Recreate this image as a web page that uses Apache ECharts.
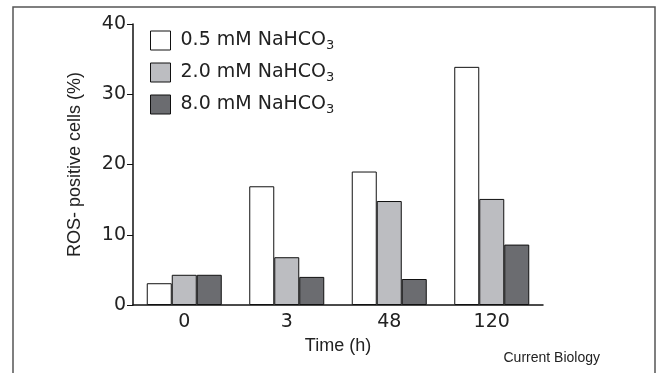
<!DOCTYPE html>
<html>
<head>
<meta charset="utf-8">
<script src="https://cdn.jsdelivr.net/npm/echarts@6/dist/echarts.min.js"></script>
<style>
  html, body { margin: 0; padding: 0; background: #fff; }
  #chart { width: 661px; height: 373px; }
</style>
</head>
<body>
<div id="chart"></div>
<script>
// --- data ---
const categories = ['0', '3', '48', '120'];
const seriesNames = ['0.5 mM NaHCO', '2.0 mM NaHCO', '8.0 mM NaHCO'];
const low = [3.1, 16.9, 19.0, 33.9];
const mid = [4.3, 6.8, 14.8, 15.1];
const high = [4.3, 4.0, 3.7, 8.6];
const yTicks = [0, 10, 20, 30, 40];

const FONT = 'Liberation Sans';
const TICK_FONT = 'DejaVu Sans';
const colors = ['#ffffff', '#bcbdc1', '#6b6c70'];

const chart = echarts.init(document.getElementById('chart'), null, { renderer: 'canvas' });

const makeBar = (name, data, color) => ({
  name,
  type: 'bar',
  data,
  barWidth: 25,
  barGap: '0%',
  itemStyle: { color, borderColor: '#111', borderWidth: 1 },
  emphasis: { disabled: true }
});

const option = {
  animation: false,
  textStyle: { fontFamily: FONT },
  grid: { left: 133, right: 118, top: 24, bottom: 68 },
  legend: {
    orient: 'vertical',
    left: 145,
    top: 24,
    icon: 'rect',
    itemWidth: 20,
    itemHeight: 19,
    itemGap: 9,
    data: seriesNames,
    formatter: name => '{m|' + name + '}{sub|3}',
    textStyle: {
      rich: {
        m: { fontSize: 19, fontFamily: TICK_FONT, color: '#222', padding: [0, 0, 0, 5], lineHeight: 20 },
        sub: { fontSize: 13, fontFamily: TICK_FONT, color: '#222', padding: [10, 0, 0, 0], lineHeight: 20 }
      }
    },
    itemStyle: { borderColor: '#111', borderWidth: 1 }
  },
  xAxis: {
    type: 'category',
    data: categories,
    name: 'Time (h)',
    nameLocation: 'middle',
    nameGap: 32,
    nameTextStyle: { fontSize: 18, color: '#222', fontFamily: FONT },
    axisLine: { lineStyle: { color: '#111', width: 1.5 } },
    axisTick: { show: false },
    axisLabel: { fontSize: 19, color: '#222', margin: 8, fontFamily: TICK_FONT }
  },
  yAxis: {
    type: 'value',
    min: 0,
    max: yTicks[yTicks.length - 1],
    interval: 10,
    name: 'ROS- positive cells (%)',
    nameLocation: 'middle',
    nameGap: 49,
    nameTextStyle: { fontSize: 18, color: '#222', fontFamily: FONT },
    axisLine: { show: true, lineStyle: { color: '#111', width: 1.5 } },
    axisTick: { show: true, length: 6, lineStyle: { color: '#111' } },
    splitLine: { show: false },
    axisLabel: { fontSize: 19, color: '#222', margin: 7, fontFamily: TICK_FONT }
  },
  graphic: [
    {
      type: 'rect',
      shape: { x: 13, y: 7, width: 642, height: 400 },
      style: { fill: 'none', stroke: '#555', lineWidth: 1.5 },
      silent: true
    },
    {
      type: 'text',
      right: 61,
      top: 351,
      style: { text: 'Current Biology', fontSize: 14, fontFamily: FONT, fill: '#222' },
      silent: true
    }
  ],
  series: [
    makeBar(seriesNames[0], low, colors[0]),
    makeBar(seriesNames[1], mid, colors[1]),
    makeBar(seriesNames[2], high, colors[2])
  ]
};

chart.setOption(option);
</script>
</body>
</html>
